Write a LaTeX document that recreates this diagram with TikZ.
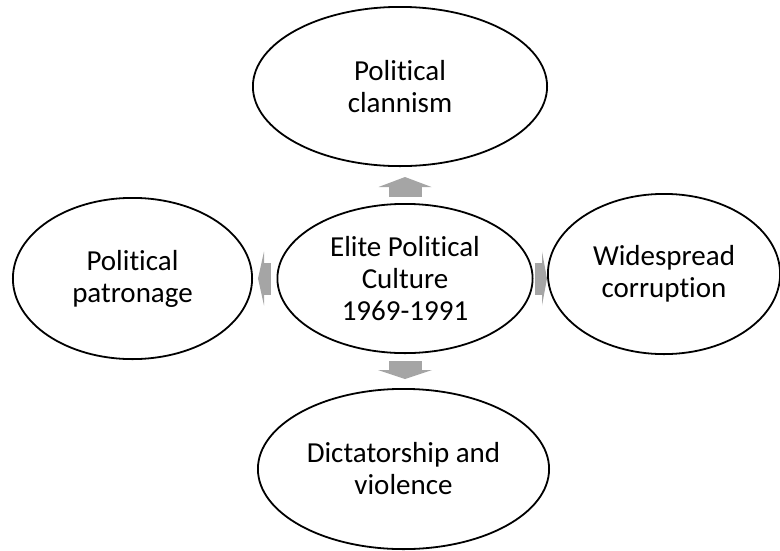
\documentclass[tikz,border=0pt]{standalone}
\usepackage{fontspec}
\setmainfont{Carlito}[Ligatures=NoCommon]
\usetikzlibrary{shapes.geometric,arrows.meta}
\definecolor{arrowgray}{HTML}{A5A5A5}
\tikzset{
  bubble/.style={ellipse, draw=black, line width=1.8pt, fill=white, inner sep=0pt,
    align=center, font=\fontsize{29}{32}\selectfont},
  blockarrow/.style 2 args={draw=arrowgray, line width=33pt,
    -{Triangle[length=#1, width=#2, line width=0pt, fill=arrowgray]}},
}
\begin{document}
\begin{tikzpicture}[x=1pt, y=-1pt]
  \useasboundingbox (0,0) rectangle (780,550);

  % central theme and its four outcomes
  \node[bubble, minimum width=255.2pt, minimum height=149.2pt] (c) at (405,278.5)
    {Elite Political\\Culture\\1969-1991};
  \node[bubble, minimum width=294.2pt, minimum height=159.2pt] (t) at (400,86.5)
    {Political\\clannism};
  \node[bubble, minimum width=239.2pt, minimum height=161.2pt] (l) at (132.5,278.5)
    {Political\\patronage};
  \node[bubble, minimum width=232.2pt, minimum height=160.2pt] (r) at (664,274)
    {Widespread\\corruption};
  \node[bubble, minimum width=291.2pt, minimum height=160.2pt] (b) at (403.5,469)
    {Dictatorship and\\violence};

  % block arrows pointing outwards
  \draw[blockarrow={10pt}{53pt}, shorten <=6pt, shorten >=10pt]
    (c.north) -- (c.north |- t.south);
  \draw[blockarrow={9pt}{54pt}, shorten <=7pt, shorten >=9pt]
    (c.south) -- (c.south |- b.north);
  \draw[blockarrow={6pt}{54pt}, line width=32pt, shorten <=6pt, shorten >=5pt]
    (c.west) -- (c.west -| l.east);
  \draw[blockarrow={5pt}{54pt}, line width=32pt, shorten <=1pt, shorten >=0pt]
    (c.east) -- (c.east -| r.west);
\end{tikzpicture}
\end{document}
